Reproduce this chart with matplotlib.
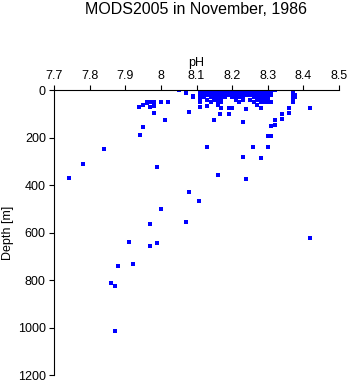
import matplotlib
matplotlib.use("Agg")
import matplotlib.pyplot as plt

plt.rcParams['font.family'] = ['Liberation Sans', 'DejaVu Sans']

# scattered points (pH, depth in m)
ph_sparse = [8.052, 8.071, 8.091, 8.091, 8.080, 7.940, 7.951, 7.962, 7.962, 7.970,
             7.982, 7.970, 7.982, 8.001, 8.021, 7.982, 8.011, 7.951, 7.941, 7.841,
             7.782, 7.741, 7.990, 8.080, 8.001, 7.970, 8.071, 8.108, 7.911, 7.970,
             7.990, 7.880, 7.921, 7.861, 7.872, 7.872, 8.419, 8.150, 8.130, 8.231,
             8.161, 8.240, 8.280, 8.259, 8.300, 8.231, 8.190, 8.166, 8.310, 8.321,
             8.321, 8.341, 8.341, 8.360, 8.360, 8.419, 8.300, 8.310, 8.280, 8.240,
             8.200, 8.130, 8.111, 8.111, 8.141, 8.170, 8.271, 8.371, 8.220]
depth_sparse = [1, 14, 24, 31, 94, 73, 62, 52, 56, 52,
                52, 73, 67, 52, 52, 98, 128, 157, 190, 250,
                312, 372, 326, 430, 500, 566, 556, 466, 640, 656,
                646, 742, 734, 814, 827, 1016, 624, 128, 240, 284,
                357, 376, 288, 240, 241, 136, 102, 102, 152, 147,
                128, 102, 124, 77, 98, 77, 194, 194, 77, 81,
                77, 67, 73, 52, 52, 77, 63, 52, 52]

# dense surface cluster (pH, depth in m)
ph_surface = [8.11, 8.11, 8.11, 8.11, 8.11, 8.11,
              8.12, 8.12, 8.12, 8.12,
              8.13, 8.13, 8.13, 8.13,
              8.14, 8.14, 8.14, 8.14,
              8.15, 8.15, 8.15, 8.15, 8.15,
              8.16, 8.16, 8.16, 8.16, 8.16, 8.16, 8.16, 8.16,
              8.17, 8.17, 8.17, 8.17, 8.17, 8.17,
              8.18, 8.18, 8.18, 8.18,
              8.19, 8.19, 8.19, 8.19,
              8.20, 8.20, 8.20, 8.20,
              8.21, 8.21, 8.21, 8.21, 8.21,
              8.22, 8.22, 8.22, 8.22,
              8.23, 8.23, 8.23, 8.23, 8.23,
              8.24, 8.24, 8.24,
              8.25, 8.25, 8.25, 8.25,
              8.26, 8.26, 8.26, 8.26, 8.26,
              8.27, 8.27, 8.27, 8.27, 8.27,
              8.28, 8.28, 8.28, 8.28, 8.28, 8.28,
              8.29, 8.29, 8.29, 8.29, 8.29, 8.29,
              8.30, 8.30, 8.30, 8.30, 8.30, 8.30,
              8.31, 8.31, 8.31, 8.31,
              8.32,
              8.37, 8.37, 8.37, 8.37, 8.37, 8.37,
              8.375, 8.375]
depth_surface = [0, 10, 20, 30, 40, 52,
                 0, 10, 20, 30,
                 0, 10, 20, 42,
                 0, 10, 20, 30,
                 0, 10, 20, 30, 40,
                 0, 5, 10, 20, 30, 40, 52, 63,
                 0, 10, 20, 30, 40, 52,
                 0, 10, 20, 30,
                 0, 10, 20, 77,
                 0, 10, 20, 30,
                 0, 10, 20, 30, 40,
                 0, 10, 20, 30,
                 0, 10, 20, 30, 40,
                 0, 10, 20,
                 0, 10, 20, 40,
                 0, 10, 20, 30, 52,
                 0, 10, 20, 30, 40,
                 0, 10, 20, 30, 40, 52,
                 0, 10, 20, 30, 40, 52,
                 0, 10, 20, 30, 40, 52,
                 0, 10, 20, 52,
                 0,
                 0, 10, 20, 30, 40, 52,
                 20, 30]

x_ticks = [7.7, 7.8, 7.9, 8.0, 8.1, 8.2, 8.3, 8.4, 8.5]
x_labels = ["7.7", "7.8", "7.9", "8", "8.1", "8.2", "8.3", "8.4", "8.5"]
y_ticks = [0, 200, 400, 600, 800, 1000, 1200]

fig = plt.figure(figsize=(3.5, 3.84), dpi=100)
ax = fig.add_axes([0.154, 0.0234, 0.815, 0.7422])

# crisp square markers, like the original bitmap
for xs, ys in [(ph_sparse, depth_sparse), (ph_surface, depth_surface)]:
    ax.plot(xs, ys, 's', color='#0000ff', markersize=2.2, markeredgewidth=0,
            antialiased=False)

ax.set_xlim(7.7, 8.5)
ax.set_ylim(1200, 0)
ax.xaxis.tick_top()
ax.xaxis.set_label_position('top')
ax.set_xticks(x_ticks)
ax.set_xticklabels(x_labels)
ax.set_yticks(y_ticks)
ax.tick_params(direction='out', length=3.8, width=0.8, labelsize=9, pad=2)

ax.spines['right'].set_visible(False)
ax.spines['bottom'].set_visible(False)
ax.spines['top'].set_linewidth(0.8)
ax.spines['left'].set_linewidth(0.8)

ax.set_xlabel("pH", fontsize=9, labelpad=3)
ax.set_ylabel("Depth [m]", fontsize=9, labelpad=3)
fig.suptitle("MODS2005 in November, 1986", fontsize=11.5, x=0.56, y=0.995)

fig.savefig("out.png", dpi=100)
